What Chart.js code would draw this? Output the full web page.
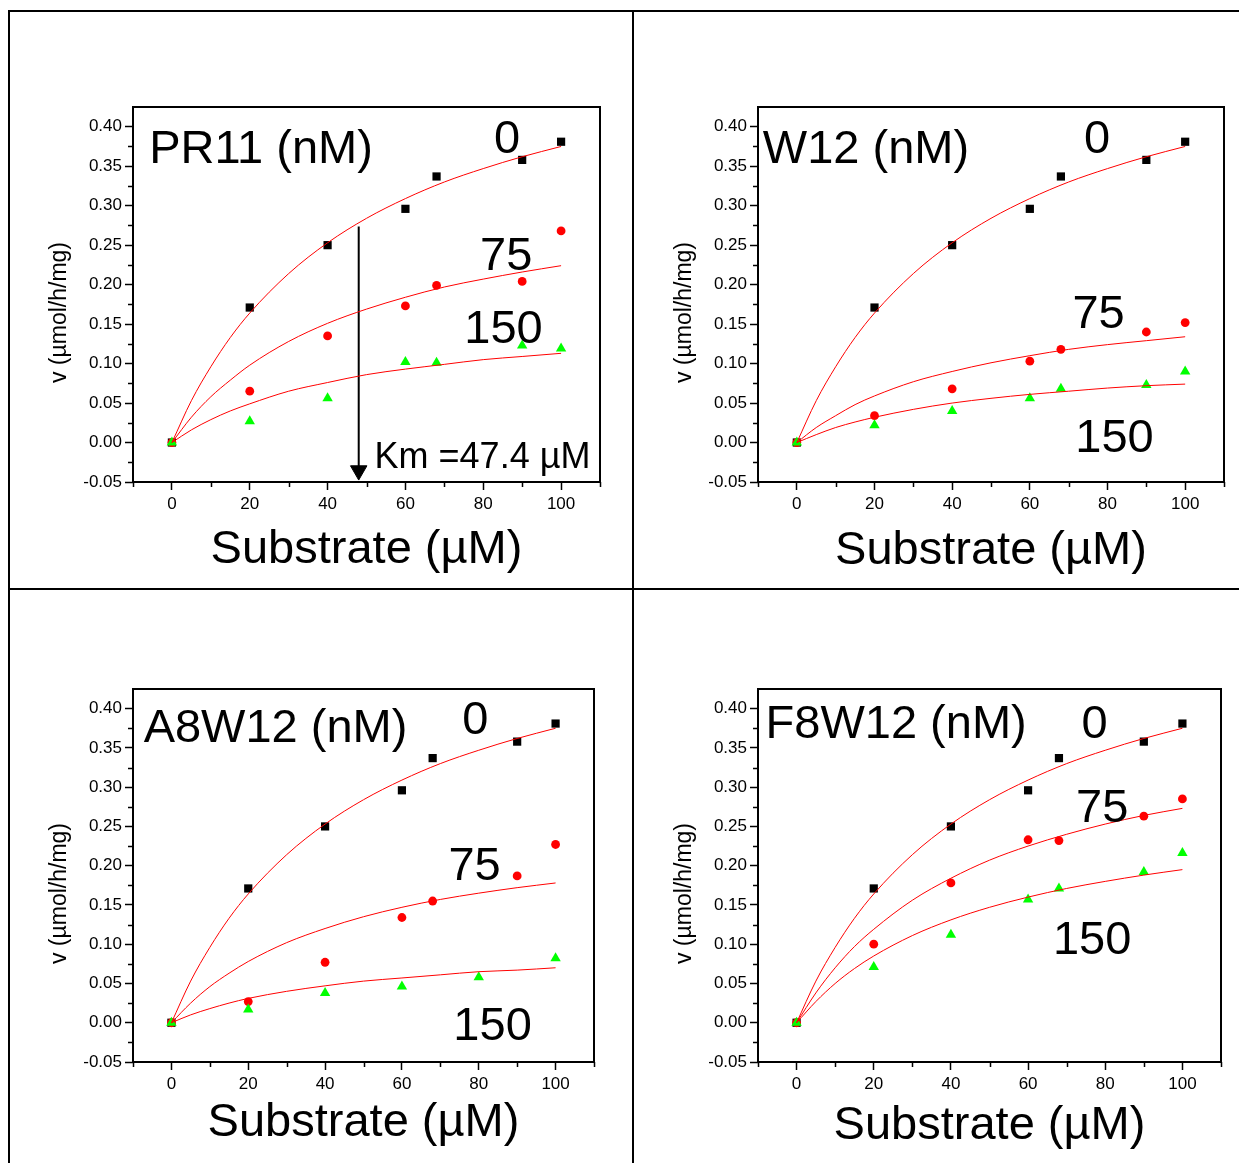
<!DOCTYPE html>
<html>
<head>
<meta charset="utf-8">
<title>Inhibition kinetics</title>
<script src="https://cdn.jsdelivr.net/npm/chart.js@4.4.1/dist/chart.umd.min.js"></script>
<style>
  html, body { margin: 0; padding: 0; background: #fff; }
  #page { position: relative; width: 1239px; height: 1163px; overflow: hidden; background: #fff; }
  .rule { position: absolute; background: #000; }
  canvas { position: absolute; }
</style>
</head>
<body>
<div id="page">
  <div class="rule" style="left:8px; top:10px; width:1231px; height:2px"></div>
  <div class="rule" style="left:8px; top:10px; width:2px; height:1153px"></div>
  <div class="rule" style="left:632px; top:10px; width:2px; height:1153px"></div>
  <div class="rule" style="left:8px; top:588px; width:1231px; height:2px"></div>
  <canvas id="chartPR11" width="610" height="570" style="left:10px; top:12px"></canvas>
  <canvas id="chartW12" width="609" height="570" style="left:635px; top:12px"></canvas>
  <canvas id="chartA8W12" width="604" height="568" style="left:10px; top:594px"></canvas>
  <canvas id="chartF8W12" width="606" height="568" style="left:635px; top:594px"></canvas>
</div>
<script>
// ---- data ----
const substrate = [0, 20, 40, 60, 68, 90, 100];
const substrateA8 = [0, 20, 40, 60, 80, 100];
const fitX = [0, 5, 10, 15, 20, 30, 40, 50, 60, 70, 80, 90, 100];

const xTicks = [0, 20, 40, 60, 80, 100];
const xMinorTicks = [-10, 10, 30, 50, 70, 90, 110];
const yTicks = [-0.05, 0, 0.05, 0.10, 0.15, 0.20, 0.25, 0.30, 0.35, 0.40];
const yMinorTicks = [-0.025, 0.025, 0.075, 0.125, 0.175, 0.225, 0.275, 0.325, 0.375];

// 0 nM inhibitor (same control in every panel)
const ctrl = [0, 0.171, 0.250, 0.296, 0.337, 0.358, 0.381];
const ctrlFit = [0, 0.053, 0.096, 0.133, 0.164, 0.214, 0.253, 0.284, 0.309, 0.330, 0.347, 0.362, 0.375];

// PR11
const pr11_75 = [0, 0.065, 0.135, 0.173, 0.199, 0.204, 0.268];
const pr11_150 = [0, 0.027, 0.056, 0.102, 0.101, 0.123, 0.119];
const pr11_75Fit = [0, 0.032, 0.058, 0.079, 0.098, 0.128, 0.151, 0.169, 0.184, 0.197, 0.207, 0.216, 0.224];
const pr11_150Fit = [0, 0.016, 0.029, 0.040, 0.049, 0.065, 0.076, 0.086, 0.093, 0.099, 0.105, 0.109, 0.113];
const kmArrowX = [48, 48];
const kmArrowY = [0.2736, -0.0355];

// W12
const w12_75 = [0, 0.034, 0.068, 0.103, 0.118, 0.140, 0.152];
const w12_150 = [0, 0.022, 0.040, 0.056, 0.068, 0.073, 0.090];
const w12_75Fit = [0, 0.019, 0.034, 0.048, 0.059, 0.077, 0.090, 0.101, 0.110, 0.118, 0.124, 0.129, 0.134];
const w12_150Fit = [0, 0.010, 0.019, 0.026, 0.032, 0.042, 0.050, 0.056, 0.061, 0.065, 0.069, 0.072, 0.074];

// A8W12
const a8_75 = [0, 0.027, 0.077, 0.134, 0.155, 0.187, 0.227];
const a8_150 = [0, 0.017, 0.038, 0.046, 0.058, 0.082];
const a8_75Fit = [0, 0.025, 0.046, 0.063, 0.078, 0.102, 0.120, 0.135, 0.147, 0.157, 0.165, 0.172, 0.178];
const a8_150Fit = [0, 0.010, 0.018, 0.025, 0.031, 0.040, 0.047, 0.053, 0.057, 0.061, 0.065, 0.067, 0.070];

// F8W12
const f8_75 = [0, 0.100, 0.178, 0.233, 0.232, 0.263, 0.285];
const f8_150 = [0, 0.071, 0.112, 0.157, 0.171, 0.192, 0.216];
const f8_75Fit = [0, 0.038, 0.070, 0.097, 0.119, 0.156, 0.184, 0.207, 0.225, 0.240, 0.253, 0.264, 0.273];
const f8_150Fit = [0, 0.027, 0.050, 0.069, 0.085, 0.111, 0.131, 0.147, 0.160, 0.171, 0.180, 0.188, 0.195];
// ==================

const FONT = '"Liberation Sans", Arial, sans-serif';
const fitColor = '#ff0000';

function pairs(xs, ys) {
  return xs.map((x, i) => ({x: x, y: ys[i]}));
}

function fitLine(ys) {
  return {
    data: pairs(fitX, ys),
    showLine: true,
    borderColor: fitColor,
    borderWidth: 1,
    pointRadius: 0,
    cubicInterpolationMode: 'monotone',
    order: 0
  };
}

function markers(xs, ys, style, color, radius, order) {
  return {
    data: pairs(xs, ys),
    showLine: false,
    pointStyle: style,
    pointRadius: radius,
    pointBackgroundColor: color,
    pointBorderColor: color,
    pointBorderWidth: 0,
    order: order
  };
}

// minor ticks, plot frame, y title and in-plot labels
const panelDecor = {
  id: 'panelDecor',
  afterDatasetsDraw(chart, args, opts) {
    const ctx = chart.ctx;
    const sx = chart.scales.x, sy = chart.scales.y;
    ctx.save();
    ctx.fillStyle = '#000';
    ctx.textAlign = 'center';
    ctx.textBaseline = 'alphabetic';
    opts.labels.forEach(l => {
      ctx.font = l.size + 'px ' + FONT;
      ctx.fillText(l.text, sx.getPixelForValue(l.x), sy.getPixelForValue(l.y));
    });
    ctx.restore();
  },
  afterDraw(chart) {
    const ctx = chart.ctx;
    const a = chart.chartArea;
    const sx = chart.scales.x, sy = chart.scales.y;
    ctx.save();
    ctx.strokeStyle = '#000';
    ctx.lineWidth = 1.5;
    ctx.beginPath();
    yMinorTicks.forEach(v => {
      const p = Math.round(sy.getPixelForValue(v)) + 0.5;
      ctx.moveTo(a.left - 5, p);
      ctx.lineTo(a.left, p);
    });
    xMinorTicks.forEach(v => {
      const p = Math.round(sx.getPixelForValue(v)) + 0.5;
      ctx.moveTo(p, a.bottom);
      ctx.lineTo(p, a.bottom + 5);
    });
    ctx.stroke();

    ctx.lineWidth = 2;
    ctx.strokeRect(a.left, a.top, a.right - a.left, a.bottom - a.top);

    ctx.translate(a.left - 73, (a.top + a.bottom) / 2 + 18);
    ctx.rotate(-Math.PI / 2);
    ctx.fillStyle = '#000';
    ctx.font = '23px ' + FONT;
    ctx.textAlign = 'center';
    ctx.textBaseline = 'middle';
    ctx.fillText('v (\u00b5mol/h/mg)', 0, 0);
    ctx.restore();
  }
};

function makePanel(canvasId, datasets, labels, titlePad) {
  const ctx = document.getElementById(canvasId).getContext('2d');
  return new Chart(ctx, {
    type: 'scatter',
    data: {datasets: datasets},
    plugins: [panelDecor],
    options: {
      responsive: false,
      animation: false,
      layout: {padding: {left: 0, top: 95, right: 20, bottom: 0}},
      plugins: {
        legend: {display: false},
        tooltip: {enabled: false},
        panelDecor: {labels: labels}
      },
      scales: {
        x: {
          type: 'linear',
          position: 'bottom',
          min: -10,
          max: 110,
          afterBuildTicks: s => { s.ticks = xTicks.map(v => ({value: v})); },
          afterFit: s => { s.height = 100; },
          border: {display: false},
          grid: {drawOnChartArea: false, drawTicks: true, tickLength: 8, tickWidth: 1.5, tickColor: '#000'},
          ticks: {color: '#000', padding: 4, font: {family: FONT, size: 17}, maxRotation: 0},
          title: {
            display: true,
            text: 'Substrate (\u00b5M)',
            color: '#000',
            font: {family: FONT, size: 47},
            padding: {top: 0, bottom: titlePad}
          }
        },
        y: {
          type: 'linear',
          position: 'left',
          min: -0.05,
          max: 0.425,
          afterBuildTicks: s => { s.ticks = yTicks.map(v => ({value: v})); },
          afterFit: s => { s.width = 123; },
          border: {display: false},
          grid: {drawOnChartArea: false, drawTicks: true, tickLength: 8, tickWidth: 1.5, tickColor: '#000'},
          ticks: {color: '#000', padding: 3, font: {family: FONT, size: 17}, callback: v => Number(v).toFixed(2)}
        }
      }
    }
  });
}

const kmArrow = {
  data: pairs(kmArrowX, kmArrowY),
  showLine: true,
  borderColor: '#000',
  borderWidth: 2,
  pointStyle: 'triangle',
  pointRadius: [0, 9.5],
  pointRotation: [0, 180],
  pointBackgroundColor: '#000',
  pointBorderColor: '#000',
  pointBorderWidth: 1,
  order: 0
};

makePanel('chartPR11', [
  fitLine(ctrlFit), fitLine(pr11_75Fit), fitLine(pr11_150Fit), kmArrow,
  markers(substrate, ctrl, 'rect', '#000000', 5.8, 3),
  markers(substrate, pr11_75, 'circle', '#ff0000', 4.4, 2),
  markers(substrate, pr11_150, 'triangle', '#00ff00', 6, 1)
], [
  {text: 'PR11 (nM)', x: 22.9, y: 0.354, size: 47},
  {text: '0', x: 86.1, y: 0.367, size: 47},
  {text: '75', x: 85.9, y: 0.2185, size: 47},
  {text: '150', x: 85.2, y: 0.126, size: 47},
  {text: 'Km =47.4 \u00b5M', x: 79.8, y: -0.032, size: 36}
], 4);

makePanel('chartW12', [
  fitLine(ctrlFit), fitLine(w12_75Fit), fitLine(w12_150Fit),
  markers(substrate, ctrl, 'rect', '#000000', 5.8, 3),
  markers(substrate, w12_75, 'circle', '#ff0000', 4.4, 2),
  markers(substrate, w12_150, 'triangle', '#00ff00', 6, 1)
], [
  {text: 'W12 (nM)', x: 17.8, y: 0.354, size: 47},
  {text: '0', x: 77.3, y: 0.367, size: 47},
  {text: '75', x: 77.7, y: 0.145, size: 47},
  {text: '150', x: 81.8, y: -0.012, size: 47}
], 3);

makePanel('chartA8W12', [
  fitLine(ctrlFit), fitLine(a8_75Fit), fitLine(a8_150Fit),
  markers(substrate, ctrl, 'rect', '#000000', 5.8, 3),
  markers(substrate, a8_75, 'circle', '#ff0000', 4.4, 2),
  markers(substrateA8, a8_150, 'triangle', '#00ff00', 6, 1)
], [
  {text: 'A8W12 (nM)', x: 27.1, y: 0.3575, size: 47},
  {text: '0', x: 79.1, y: 0.3677, size: 47},
  {text: '75', x: 78.9, y: 0.1818, size: 47},
  {text: '150', x: 83.6, y: -0.022, size: 47}
], 11);

makePanel('chartF8W12', [
  fitLine(ctrlFit), fitLine(f8_75Fit), fitLine(f8_150Fit),
  markers(substrate, ctrl, 'rect', '#000000', 5.8, 3),
  markers(substrate, f8_75, 'circle', '#ff0000', 4.4, 2),
  markers(substrate, f8_150, 'triangle', '#00ff00', 6, 1)
], [
  {text: 'F8W12 (nM)', x: 25.8, y: 0.3626, size: 47},
  {text: '0', x: 77.2, y: 0.3626, size: 47},
  {text: '75', x: 79.2, y: 0.2556, size: 47},
  {text: '150', x: 76.6, y: 0.0875, size: 47}
], 8);
</script>
</body>
</html>
